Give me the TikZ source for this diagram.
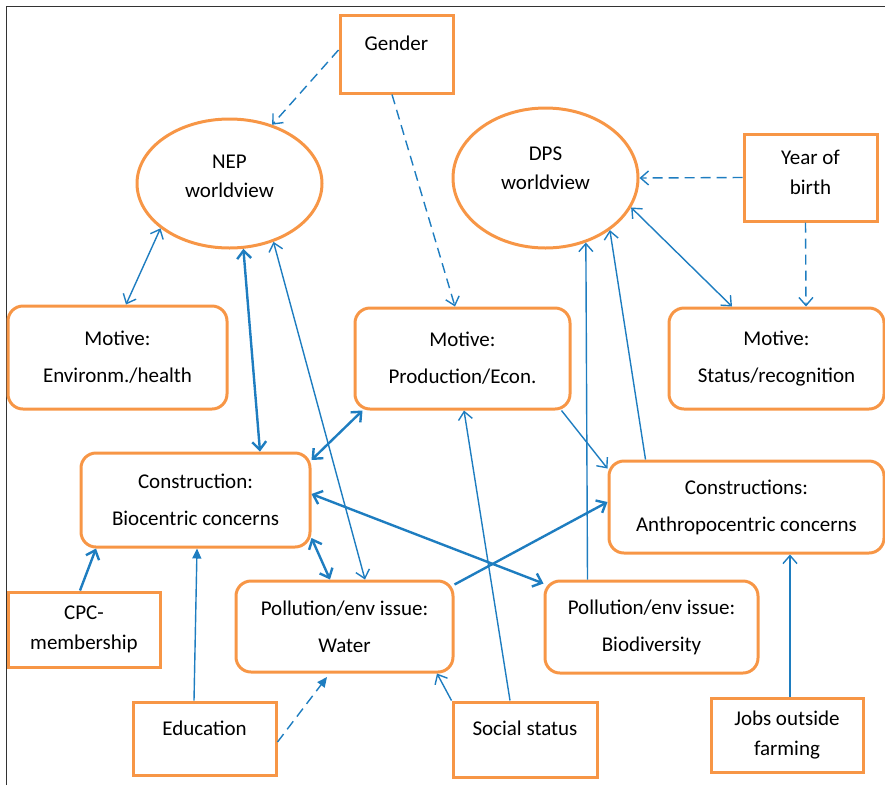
\documentclass[tikz,border=0pt]{standalone}
\usepackage{fontspec}
\setmainfont{Carlito}
\usetikzlibrary{arrows.meta,shapes.geometric}

\definecolor{boxorange}{RGB}{247,150,70}
\definecolor{linkblue}{RGB}{30,125,192}

\tikzset{
  factor/.style={draw=boxorange,line width=3pt,rectangle,align=center,inner sep=0pt,
    font=\fontsize{21}{29.5}\selectfont},
  concept/.style={factor,rounded corners=15pt,font=\fontsize{21}{37}\selectfont},
  view/.style={draw=boxorange,line width=3pt,ellipse,align=center,inner sep=0pt,
    font=\fontsize{21}{29.5}\selectfont},
  link/.style={draw=linkblue,line width=1.4pt},
  strong/.style={draw=linkblue,line width=2.4pt},
  weak/.style={link,dash pattern=on 10pt off 6pt},
  filltip/.tip={Triangle[length=10pt,width=9pt]},
}

\begin{document}
\begin{tikzpicture}[x=1pt,y=1pt,yscale=-1,xscale=1,>={Straight Barb[length=8pt,width=14pt]}]
\useasboundingbox (0,0) rectangle (885,785);

%Frame
\draw [black!80,line width=1pt] (6,785) -- (6,6) -- (885,6) ;

%Shape: Rectangle [gender]
\node [factor,minimum width=113pt,minimum height=78pt,text depth=22pt] (gender) at (396.5,54) {Gender};
%Shape: Ellipse [nep]
\node [view,minimum width=185pt,minimum height=129pt,text depth=14pt] (nep) at (229.5,183.5) {NEP\\worldview};
%Shape: Ellipse [dps]
\node [view,minimum width=185pt,minimum height=140pt,text depth=20pt] (dps) at (545.5,178) {DPS\\worldview};
%Shape: Rectangle [yob]
\node [factor,minimum width=133pt,minimum height=87pt,text depth=10pt] (yob) at (810.5,177.5) {Year of\\birth};

%Shape: Rounded Rect [menv]
\node [concept,minimum width=219pt,minimum height=103pt] (menv) at (117.5,357.5) {Motive:\\Environm./health};
%Shape: Rounded Rect [mprod]
\node [concept,minimum width=215pt,minimum height=101pt] (mprod) at (462.5,358.5) {Motive:\\Production/Econ.};
%Shape: Rounded Rect [mstat]
\node [concept,minimum width=215pt,minimum height=101pt] (mstat) at (776.5,358.5) {Motive:\\Status/recognition};

%Shape: Rounded Rect [cbio]
\node [concept,minimum width=229pt,minimum height=94pt] (cbio) at (195.5,500) {Construction:\\Biocentric concerns};
%Shape: Rounded Rect [canthro]
\node [concept,minimum width=275pt,minimum height=92pt] (canthro) at (746.5,507) {Constructions:\\Anthropocentric concerns};

%Shape: Rectangle [cpc]
\node [factor,minimum width=152pt,minimum height=75pt] (cpc) at (84,629.5) {CPC-\\membership};
%Shape: Rounded Rect [pwater]
\node [concept,minimum width=217pt,minimum height=91pt] (pwater) at (344.5,626.5) {Pollution/env issue:\\Water};
%Shape: Rounded Rect [pbio]
\node [concept,minimum width=213pt,minimum height=92pt] (pbio) at (651.5,627) {Pollution/env issue:\\Biodiversity};

%Shape: Rectangle [edu]
\node [factor,minimum width=143pt,minimum height=73pt,text depth=21pt] (edu) at (204.5,738.5) {Education};
%Shape: Rectangle [social]
\node [factor,minimum width=144pt,minimum height=75pt,text depth=23pt] (social) at (525,739.5) {Social status};
%Shape: Rectangle [jobs]
\node [factor,minimum width=152pt,minimum height=74pt] (jobs) at (787,735) {Jobs outside\\farming};

%Dashed Lines
\draw [weak,->] ([yshift=-4pt]gender.west) -- (nep.54) ;
\draw [weak,->] ([xshift=-4.5pt]gender.south) -- ([xshift=-7.5pt]mprod.north) ;
\draw [weak,->] (yob.west) -- (dps.east) ;
\draw [weak,->] ([xshift=-5pt]yob.south) -- ([xshift=29.5pt]mstat.north) ;
\draw [weak,-filltip] ([yshift=3.5pt]edu.east) -- ([xshift=-17.5pt,yshift=3.5pt]pwater.south) ;

%Straight Lines
\draw [link,<->] (nep.213) -- ([xshift=8.5pt]menv.north) ;
\draw [strong,<->] (nep.282) -- ([xshift=64.5pt]cbio.north) ;
\draw [link,<->] (nep.307) -- ([xshift=20.5pt]pwater.north) ;
\draw [strong,<->] ([yshift=-40pt]cbio.east) -- ([xshift=9pt]mprod.south west) ;
\draw [strong,<->] ([yshift=-6pt]cbio.east) -- ([yshift=4pt]pbio.north west) ;
\draw [strong,<->] ([yshift=38pt]cbio.east) -- ([xshift=-14.5pt]pwater.north) ;
\draw [strong,->] ([xshift=-4pt]cpc.north) -- ([xshift=-99.5pt]cbio.south) ;
\draw [link,-filltip] ([xshift=-10.5pt]edu.north) -- ([xshift=1.5pt]cbio.south) ;
\draw [link,->] (social.north west) -- ([xshift=92.5pt]pwater.south) ;
\draw [link,->] ([xshift=-15pt]social.north) -- ([xshift=1.5pt]mprod.south) ;
\draw [strong,->] ([yshift=5pt]pwater.north east) -- ([yshift=-5pt]canthro.west) ;
\draw [link,->] ([xshift=-10pt]mprod.south east) -- ([yshift=9pt]canthro.north west) ;
\draw [link,->] ([xshift=44pt]pbio.north west) -- (dps.302) ;
\draw [link,->] ([xshift=38pt]canthro.north west) -- (dps.321) ;
\draw [link,<->] (dps.341) -- ([xshift=-44.5pt]mstat.north) ;
\draw [link,->] ([xshift=3pt]jobs.north) -- ([xshift=43.5pt]canthro.south) ;

\end{tikzpicture}
\end{document}
